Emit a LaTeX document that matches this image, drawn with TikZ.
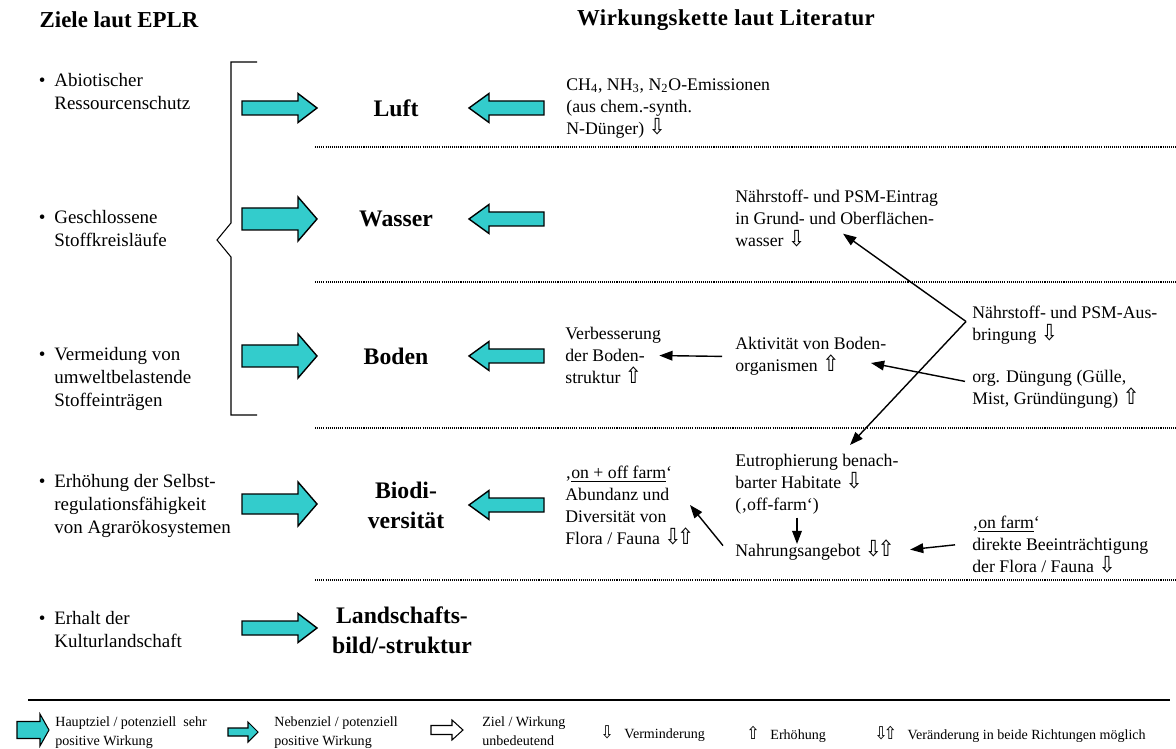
\documentclass[tikz,border=0pt]{standalone}
\usepackage{fontspec}
\usepackage{graphicx}
\setmainfont{Liberation Serif}
\newfontfamily\symfont{DejaVu Sans}
\usetikzlibrary{arrows.meta,calc}
\definecolor{tuerkis}{HTML}{33CCCC}
\newcommand\pfeilab{{\symfont\scalebox{1.15}[1.25]{⇩}}}
\newcommand\pfeilauf{{\symfont\scalebox{1.15}[1.25]{⇧}}}
\newcommand\pfeilbeide{\pfeilab\kern-2.5pt\pfeilauf}

\begin{document}
\begin{tikzpicture}
        [
            x                       = 0.02cm,
            y                       = -0.02cm,
            titel/.style            = {inner sep=0pt, font=\fontsize{13}{15}\selectfont\bfseries},
            bereich/.style          = {inner sep=0pt, align=center, font=\fontsize{13.5}{17}\selectfont\bfseries},
            ziel/.style             = {anchor=north west, inner sep=0pt, align=left, font=\fontsize{10.8}{13}\selectfont},
            wirktext/.style         = {anchor=north west, inner sep=0pt, align=left, font=\fontsize{10.1}{12.5}\selectfont},
            legende/.style          = {anchor=north west, inner sep=0pt, align=left, font=\fontsize{8}{10.8}\selectfont},
            symbol/.style           = {anchor=west, inner sep=0pt, font=\fontsize{8}{10.8}\selectfont},
            wirkung/.style          = {-{Triangle[length=7.5pt,width=5.5pt]}, line width=0.8pt},
            trenner/.style          = {line width=0.6pt, dash pattern=on 0.6pt off 0.6pt},
            hauptziel/.style        = {draw, fill=tuerkis, line width=0.8pt},
            nebenziel/.style        = {draw, fill=tuerkis, line width=0.8pt},
            unbedeutend/.style      = {draw, fill=white, line width=0.8pt},
            pics/blockpfeil/.style n args = {4}{code={
                \path[pic actions] (0,-#3) -- ({#1-#2},-#3) -- ({#1-#2},-#4) -- (#1,0)
                    -- ({#1-#2},#4) -- ({#1-#2},#3) -- (0,#3) -- cycle;
            }},
        ]
        \useasboundingbox (0,0) rectangle (1176,749);

        \node [titel] (tziele) at (119,20) {Ziele laut EPLR};
        \node [titel] (tkette) at (726,20) {\addfontfeature{LetterSpace=2}Wirkungskette laut Literatur};

        % Ziele
        \node [ziel] (z1) at (54,73)  {\llap{•\hspace{5pt}}Abiotischer\\Ressourcenschutz};
        \node [ziel] (z2) at (54,210) {\llap{•\hspace{5pt}}Geschlossene\\Stoffkreisläufe};
        \node [ziel] (z3) at (54,347) {\llap{•\hspace{5pt}}Vermeidung von\\umweltbelastende\\Stoffeinträgen};
        \node [ziel] (z4) at (54,474) {\llap{•\hspace{5pt}}Erhöhung der Selbst-\\regulationsfähigkeit\\von Agrarökosystemen};
        \node [ziel] (z5) at (54,611) {\llap{•\hspace{5pt}}Erhalt der\\Kulturlandschaft};

        \draw [line width=0.6pt] (257,62) -- (231,62) -- (231,223) -- (217,240)
            -- (231,257) -- (231,415) -- (257,415);

        % Schutzgueter
        \node [bereich] (luft)       at (396,108) {Luft};
        \node [bereich] (wasser)     at (396,219) {Wasser};
        \node [bereich] (boden)      at (396,356) {Boden};
        \node [bereich] (biodiv)     at (406,505) {Biodi-\\versität};
        \node [bereich] (landschaft) at (402,630) {Landschafts-\\bild/-struktur};

        \pic [nebenziel] at (242,108) {blockpfeil={75}{19}{7}{14.5}};
        \pic [hauptziel] at (242,219) {blockpfeil={75}{19}{11}{22}};
        \pic [hauptziel] at (242,356) {blockpfeil={75}{19}{11}{22}};
        \pic [hauptziel] at (242,504) {blockpfeil={75}{19}{10}{22}};
        \pic [nebenziel] at (242,628) {blockpfeil={75}{19}{7}{14.5}};
        \foreach \y in {108,219,356,505}
            \pic [nebenziel, xscale=-1] at (544,\y) {blockpfeil={75}{20}{7}{14.5}};

        \foreach \y in {147,282,428,580}
            \draw [trenner] (315,\y) -- (1176,\y);

        % Wirkungskette
        \node [wirktext] (emission) at (566,78)  {CH\textsubscript{4}, NH\textsubscript{3}, N\textsubscript{2}O-Emissionen\\(aus chem.-synth.\\N-Dünger) \pfeilab};
        \node [wirktext] (eintrag)  at (735,190) {Nährstoff- und PSM-Eintrag\\in Grund- und Oberflächen-\\wasser \pfeilab};
        \node [wirktext] (ausbr)    at (972,306) {Nährstoff- und PSM-Aus-\\bringung \pfeilab};
        \node [wirktext] (aktiv)    at (735,337) {Aktivität von Boden-\\organismen \pfeilauf};
        \node [wirktext] (orgdung)  at (972,370) {org. Düngung (Gülle,\\Mist, Gründüngung) \pfeilauf};
        \node [wirktext] (struktur) at (565,327) {Verbesserung\\der Boden-\\struktur \pfeilauf};
        \node [wirktext] (vielfalt) at (565,466) {‚\underline{on + off farm}‘\\Abundanz und\\Diversität von\\Flora / Fauna \pfeilbeide};
        \node [wirktext] (eutroph)  at (735,454) {Eutrophierung benach-\\barter Habitate \pfeilab\\(‚off-farm‘)};
        \node [wirktext] (nahrung)  at (735,539) {Nahrungsangebot \pfeilbeide};
        \node [wirktext] (onfarm)   at (972,516) {‚\underline{on farm}‘\\direkte Beeinträchtigung\\der Flora / Fauna \pfeilab};

        \coordinate (gabel) at ($(ausbr.west)+(-6,-4)$);
        \draw [wirkung] (gabel) -- ($(eintrag.south west)+(108,-14)$);
        \draw [wirkung] (gabel) -- ($(eutroph.north west)+(115,-9)$);
        \draw [wirkung] ($(orgdung.west)+(-7,-8)$) -- ($(aktiv.north west)+(136,26)$);
        \draw [wirkung] ($(aktiv.west)+(-13,0)$) -- ($(struktur.east)+(-2,0)$);
        \draw [wirkung] ($(eutroph.south west)+(62,3)$) -- ($(nahrung.north west)+(62,5)$);
        \draw [wirkung] ($(nahrung.west)+(-12,-4)$) -- ($(vielfalt.north west)+(125,39)$);
        \draw [wirkung] ($(onfarm.west)+(-17,0)$) -- ($(nahrung.east)+(15,0)$);

        % Legende
        \draw [line width=0.8pt] (28,700) -- (1170,700);
        \pic [hauptziel, line width=0.6pt]   at (17,730)  {blockpfeil={32}{9}{8.5}{16}};
        \pic [nebenziel, line width=0.6pt]   at (228,732) {blockpfeil={30}{10}{4}{10}};
        \pic [unbedeutend, line width=0.6pt] at (431,730) {blockpfeil={32}{11}{4.5}{10}};
        \node [legende] (lhaupt) at (55,716)  {Hauptziel / potenziell\ \ sehr\\positive Wirkung};
        \node [legende] (lneben) at (274,716) {Nebenziel / potenziell\\positive Wirkung};
        \node [legende] (lohne)  at (482,716) {Ziel / Wirkung\\unbedeutend};
        \node [symbol] (lab)     at (600,734) {\pfeilab\hspace{6pt}Verminderung};
        \node [symbol] (lauf)    at (746,734) {\pfeilauf\hspace{6pt}Erhöhung};
        \node [symbol] (lbeide)  at (874,734) {\pfeilbeide\hspace{6pt}Veränderung in beide Richtungen möglich};
    \end{tikzpicture}
\end{document}
